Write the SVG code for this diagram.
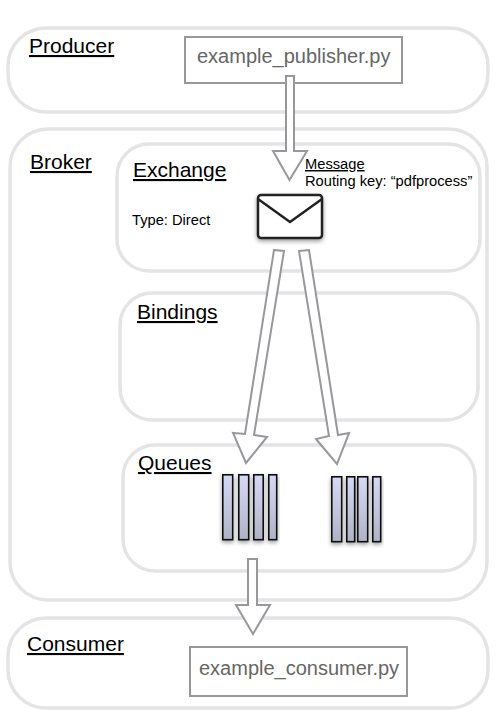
<svg xmlns="http://www.w3.org/2000/svg" width="498" height="721" viewBox="0 0 498 721">
<style>
.panel{fill:#fff;stroke:#e4e4e6;stroke-width:3.500}
.box{fill:#fff;stroke:#98989c;stroke-width:2}
.arrow{fill:#fff;stroke:#98989c;stroke-width:2;stroke-linejoin:miter}
.bar{fill:url(#barFill);stroke:#111;stroke-width:1.600;filter:url(#shadow)}
text{font-family:"Liberation Sans",Arial,sans-serif;fill:#000}
.title{font-size:21px;text-decoration:underline}
.small{font-size:14.700px}
.file{font-size:20px;fill:#666}
</style>
<defs>
<linearGradient id="barFill" x1="0" y1="0" x2="0" y2="1"><stop offset="0" stop-color="#d6d9f5"/><stop offset="1" stop-color="#b0b3c6"/></linearGradient>
<filter id="shadow" x="-40%" y="-20%" width="180%" height="140%"><feDropShadow dx="0" dy="2" stdDeviation="2" flood-color="#000" flood-opacity="0.4"/></filter>
</defs>
<rect width="498" height="721" fill="#fff"/>
<g id="producer">
<rect class="panel" x="8" y="28" width="480" height="84" rx="38"/>
<text class="title" x="29" y="53">Producer</text>
<rect class="box" x="185" y="37" width="217" height="46"/>
<text class="file" x="197" y="63">example_publisher.py</text>
</g>
<g id="broker">
<rect class="panel" x="10" y="129" width="477" height="471" rx="38"/>
<text class="title" x="30" y="169">Broker</text>
</g>
<g id="exchange">
<rect class="panel" x="117" y="144" width="363" height="127" rx="32"/>
<text class="title" x="133" y="177">Exchange</text>
<text class="small" x="132" y="225">Type: Direct</text>
<text class="small" x="305" y="169" style="text-decoration:underline">Message</text>
<text class="small" x="305" y="186">Routing key: “pdfprocess”</text>
<g id="envelope" filter="url(#shadow)">
<rect x="258" y="195" width="64" height="43" rx="3" fill="#fff" stroke="#222" stroke-width="2.500"/>
<path d="M258 199L290 222L322 199" fill="none" stroke="#222" stroke-width="2.500"/>
</g>
</g>
<g id="bindings">
<rect class="panel" x="120" y="293" width="358" height="127" rx="32"/>
<text class="title" x="137" y="319">Bindings</text>
</g>
<g id="queues">
<rect class="panel" x="123" y="445" width="352" height="126" rx="32"/>
<text class="title" x="138" y="470">Queues</text>
<g id="queue-1">
<rect class="bar" x="222.800" y="474.800" width="9.900" height="64.900"/>
<rect class="bar" x="238.800" y="474.800" width="9.900" height="64.900"/>
<rect class="bar" x="253.800" y="474.800" width="9.400" height="64.900"/>
<rect class="bar" x="268.800" y="474.800" width="7.900" height="64.900"/>
</g>
<g id="queue-2">
<rect class="bar" x="331.800" y="476.800" width="9.900" height="64.900"/>
<rect class="bar" x="346.800" y="476.800" width="7.900" height="64.900"/>
<rect class="bar" x="357.800" y="476.800" width="9.900" height="64.900"/>
<rect class="bar" x="372.800" y="476.800" width="7.900" height="64.900"/>
</g>
</g>
<g id="consumer">
<rect class="panel" x="8" y="618" width="480" height="90" rx="38"/>
<text class="title" x="27" y="651">Consumer</text>
<rect class="box" x="190" y="647" width="217" height="49"/>
<text class="file" x="199" y="675">example_consumer.py</text>
</g>
<g id="connectors">
<path class="arrow" d="M286 76H294V151H307L289.500 180L273 151H286Z"/>
<path class="arrow" d="M274 250L284 251L254 435L267 437L246 463L233 433L245 434Z"/>
<path class="arrow" d="M299 251L309 250L338 435L349 433L337 464L316 439L329 436Z"/>
<path class="arrow" d="M248 559H257V605H270L253 634L236 605H248Z"/>
</g>
</svg>
